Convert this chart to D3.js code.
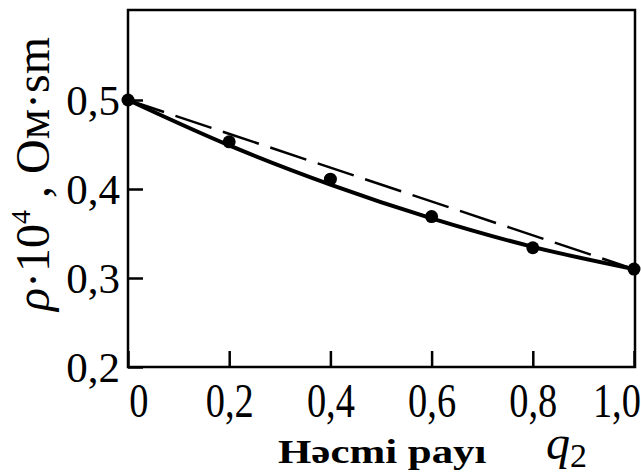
<!DOCTYPE html>
<html>
<head>
<meta charset="utf-8">
<script src="https://cdn.jsdelivr.net/npm/d3@7"></script>
<style>
  body { margin: 0; background: #fff; }
</style>
</head>
<body>
<div id="chart"></div>
<script>
var width = 641,
    height = 476,
    serif = "'Liberation Serif', 'Times New Roman', 'DejaVu Serif', serif";

// measured points (volume fraction q2 vs rho*10^4)
var qValues = [0, 0.2, 0.4, 0.6, 0.8, 1.0];
var rhoPoints = [0.5, 0.453, 0.411, 0.369, 0.334, 0.31];
// smooth fitted curve
var rhoCurve = [0.5, 0.449, 0.405, 0.367, 0.335, 0.31];
// additive (straight) dashed line end values
var dashQ = [0, 1.0];
var dashRho = [0.5, 0.31];

var xTicks = [0, 0.2, 0.4, 0.6, 0.8, 1.0];
var yTicks = [0.2, 0.3, 0.4, 0.5];

var x = d3.scaleLinear().domain([0, 1]).range([128, 634]);
var y = d3.scaleLinear().domain([0.2, 0.6]).range([367, 11]);

var svg = d3.select("#chart").append("svg")
    .attr("width", width)
    .attr("height", height)
    .style("font-family", serif);

function fmt(d) {
  return d === 0 ? "0" : d3.format(".1f")(d).replace(".", ",");
}

// x axis: inward ticks, labels below
var xAxis = svg.append("g")
    .attr("transform", "translate(0," + y(0.2) + ")")
    .call(d3.axisBottom(x).tickValues(xTicks).tickSizeInner(-16).tickSizeOuter(0).tickPadding(0).tickFormat(fmt))
    .attr("font-family", serif);
xAxis.select(".domain").remove();
xAxis.selectAll("line").attr("stroke", "#000").attr("stroke-width", 2.5);
xAxis.selectAll("text")
    .attr("y", 50)
    .attr("dy", 0)
    .attr("dx", function(d, i) { return i === 0 ? 13 : (i === xTicks.length - 1 ? -22 : 0); })
    .style("font-size", "48px")
    .attr("transform", "scale(0.8,1)");

// y axis
var yAxis = svg.append("g")
    .attr("transform", "translate(" + x(0) + ",0)")
    .call(d3.axisLeft(y).tickValues(yTicks).tickSizeInner(-15).tickSizeOuter(0).tickPadding(0).tickFormat(fmt))
    .attr("font-family", serif);
yAxis.select(".domain").remove();
yAxis.selectAll("line").attr("stroke", "#000").attr("stroke-width", 2.5);
yAxis.selectAll("text")
    .attr("x", -8)
    .attr("dy", "0.34em")
    .style("font-size", "43px");

// frame
svg.append("rect")
    .attr("x", x(0))
    .attr("y", 10)
    .attr("width", x(1) - x(0) + 1)
    .attr("height", y(0.2) - 10)
    .attr("fill", "none")
    .attr("stroke", "#000")
    .attr("stroke-width", 2.5);

// dashed straight line
var line = d3.line()
    .x(function(d) { return x(d[0]); })
    .y(function(d) { return y(d[1]); });

svg.append("path")
    .datum(d3.zip(dashQ, dashRho))
    .attr("d", line)
    .attr("fill", "none")
    .attr("stroke", "#000")
    .attr("stroke-width", 2.5)
    .attr("stroke-dasharray", "38,12");

// solid curve
svg.append("path")
    .datum(d3.zip(qValues, rhoCurve))
    .attr("d", line.curve(d3.curveMonotoneX))
    .attr("fill", "none")
    .attr("stroke", "#000")
    .attr("stroke-width", 4);

// points
svg.append("g")
  .selectAll("circle")
    .data(d3.zip(qValues, rhoPoints))
  .enter().append("circle")
    .attr("cx", function(d) { return x(d[0]); })
    .attr("cy", function(d) { return y(d[1]); })
    .attr("r", 6.5)
    .attr("fill", "#000");

// y label
var yl = svg.append("text")
    .attr("transform", "translate(49,174) rotate(-90)")
    .attr("text-anchor", "middle")
    .style("font-size", "48px");
yl.append("tspan").style("font-style", "italic").text("ρ");
yl.append("tspan").text("·10");
yl.append("tspan").attr("dy", -19).style("font-size", "28px").text("4");
yl.append("tspan").attr("dy", 19).text(" , Ом·sm");

// x label
svg.append("text")
    .attr("transform", "translate(278,463) scale(1.3,1)")
    .style("font-size", "33px")
    .style("font-weight", "bold")
    .text("Həcmi payı");

var xl = svg.append("text")
    .attr("transform", "translate(546,459)")
    .style("font-size", "48px")
    .style("font-style", "italic");
xl.append("tspan").text("q");
xl.append("tspan").attr("dy", 8).style("font-size", "34px").style("font-style", "normal").text("2");
</script>
</body>
</html>
